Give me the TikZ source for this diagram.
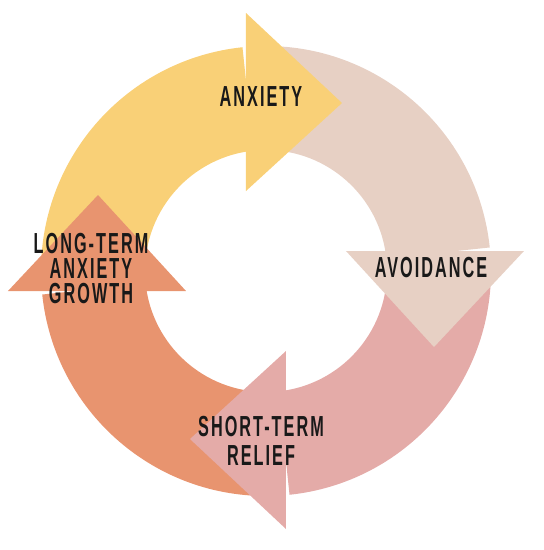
\documentclass[tikz,border=0pt]{standalone}
\usepackage{fontspec}
\usepackage{xcolor}
\usepackage{tikz}
\usetikzlibrary{positioning}

\newfontfamily\cyclefont{Liberation Sans}[FakeStretch=0.56, LetterSpace=7]

\definecolor{anxietyyellow}{HTML}{F9D077}
\definecolor{avoidbeige}{HTML}{E7D0C4}
\definecolor{reliefpink}{HTML}{E4ABA8}
\definecolor{growthorange}{HTML}{E8946F}

\begin{document}
\begin{tikzpicture}[
  x=1pt, y=1pt,
  % Node styles
  cyclelabel/.style={inner sep=0pt, align=center, text=black!90,
    font=\cyclefont\bfseries\fontsize{29}{25}\selectfont},
  arcbody/.style={draw=none},
  archead/.style={draw=none}
]
  \useasboundingbox (-266,-279) rectangle (278,271);

  % Arrow bodies (quarter rings, drawn first)
  \foreach \rot/\col in {0/anxietyyellow, -90/avoidbeige, -180/reliefpink, -270/growthorange}{
    \begin{scope}[rotate=\rot]
      \fill[arcbody, \col] (180:225) arc[start angle=180, end angle=96, radius=225]
        -- (96:121) arc[start angle=96, end angle=180, radius=121] -- cycle;
    \end{scope}
  }

  % Arrow heads (on top of the next body)
  \foreach \rot/\col in {0/anxietyyellow, -90/avoidbeige, -180/reliefpink, -270/growthorange}{
    \begin{scope}[rotate=\rot]
      \fill[archead, \col] (-20,80) -- (76,168) -- (-20,258) -- cycle;
    \end{scope}
  }

  % Labels
  \node[cyclelabel] (anxiety) at (-5,174) {ANXIETY};
  \node[cyclelabel] (avoidance) at (165,3) {AVOIDANCE};
  \node[cyclelabel, font=\cyclefont\bfseries\fontsize{29}{29}\selectfont] (relief) at (-5,-170) {SHORT-TERM\\RELIEF};
  \node[cyclelabel] (growth) at (-175,2) {LONG-TERM\\ANXIETY\\GROWTH};

\end{tikzpicture}
\end{document}
